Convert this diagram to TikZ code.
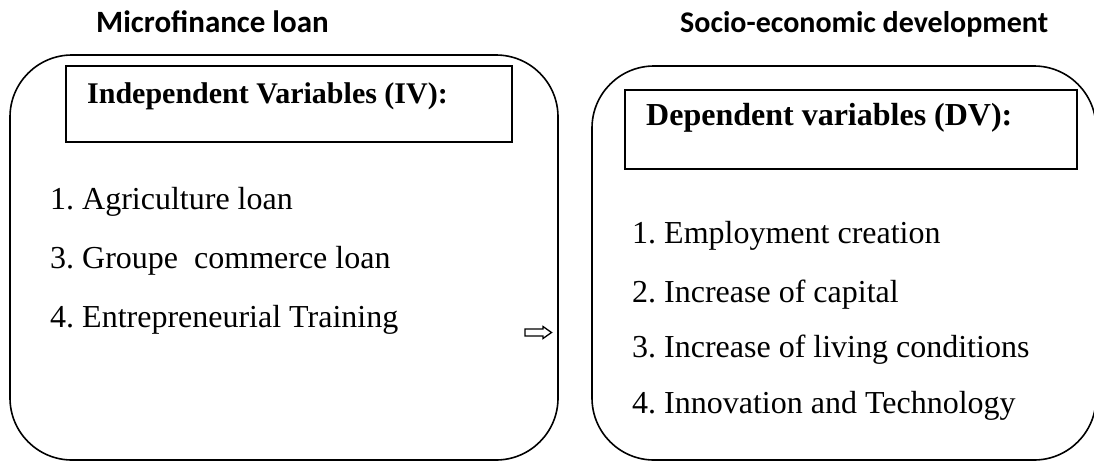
\documentclass[tikz,border=0pt]{standalone}
\usepackage{fontspec}
\setmainfont{Liberation Serif}
\newfontfamily\hdfont{Carlito}
\frenchspacing
\begin{document}
\begin{tikzpicture}[x=1pt,y=-1pt,
  panel/.style={draw, line width=1.6pt, rounded corners=62pt, inner sep=0pt},
  varbox/.style={draw, line width=1.9pt, inner sep=0pt},
  header/.style={anchor=base west, inner sep=0pt, font=\hdfont\bfseries\fontsize{31}{37}\selectfont},
  vartitle/.style={anchor=base west, inner sep=0pt, font=\bfseries\fontsize{30}{36}\selectfont},
  item/.style={anchor=base west, inner sep=0pt, font=\fontsize{32}{38}\selectfont}]
\useasboundingbox (0,0) rectangle (1094,461);

% column headings
\node[header] (hl) at (96,32) {Microfinance loan};
\node[header, font=\hdfont\bfseries\fontsize{30}{36}\selectfont] (hr) at (680,32) {Socio-economic development};

% rounded panels
\node[panel, minimum width=548pt, minimum height=405pt] (pl) at (284,257.5) {};
\node[panel, minimum width=504pt, minimum height=394pt] (pr) at (844,263) {};

% variable title boxes
\node[varbox, minimum width=446pt, minimum height=76pt] (bl) at (289,104) {};
\node[varbox, minimum width=452pt, minimum height=79pt] (br) at (851,129.5) {};
\node[vartitle] (tl) at (87,103) {Independent Variables (IV):};
\node[vartitle, font=\bfseries\fontsize{32}{38}\selectfont] (tr) at (646,125) {Dependent variables (DV):};

% independent variables
\node[item] (i1) at (50,209) {1. Agriculture loan};
\node[item] (i3) at (50,268) {3. Groupe\ \ commerce loan};
\node[item] (i4) at (50,327) {4. Entrepreneurial Training};

% dependent variables
\node[item] (d1) at (632,243) {1. Employment creation};
\node[item] (d2) at (632,302) {2. Increase of capital};
\node[item] (d3) at (632,357) {3. Increase of living conditions};
\node[item] (d4) at (632,413) {4. Innovation and Technology};

% outlined arrow between the panels
\draw[line width=1.3pt, line join=miter]
  (525,329) -- (543,329) -- (543,326.5) -- (551.5,332.5) -- (543,338.5)
  -- (543,336) -- (525,336) -- cycle;
\end{tikzpicture}
\end{document}
